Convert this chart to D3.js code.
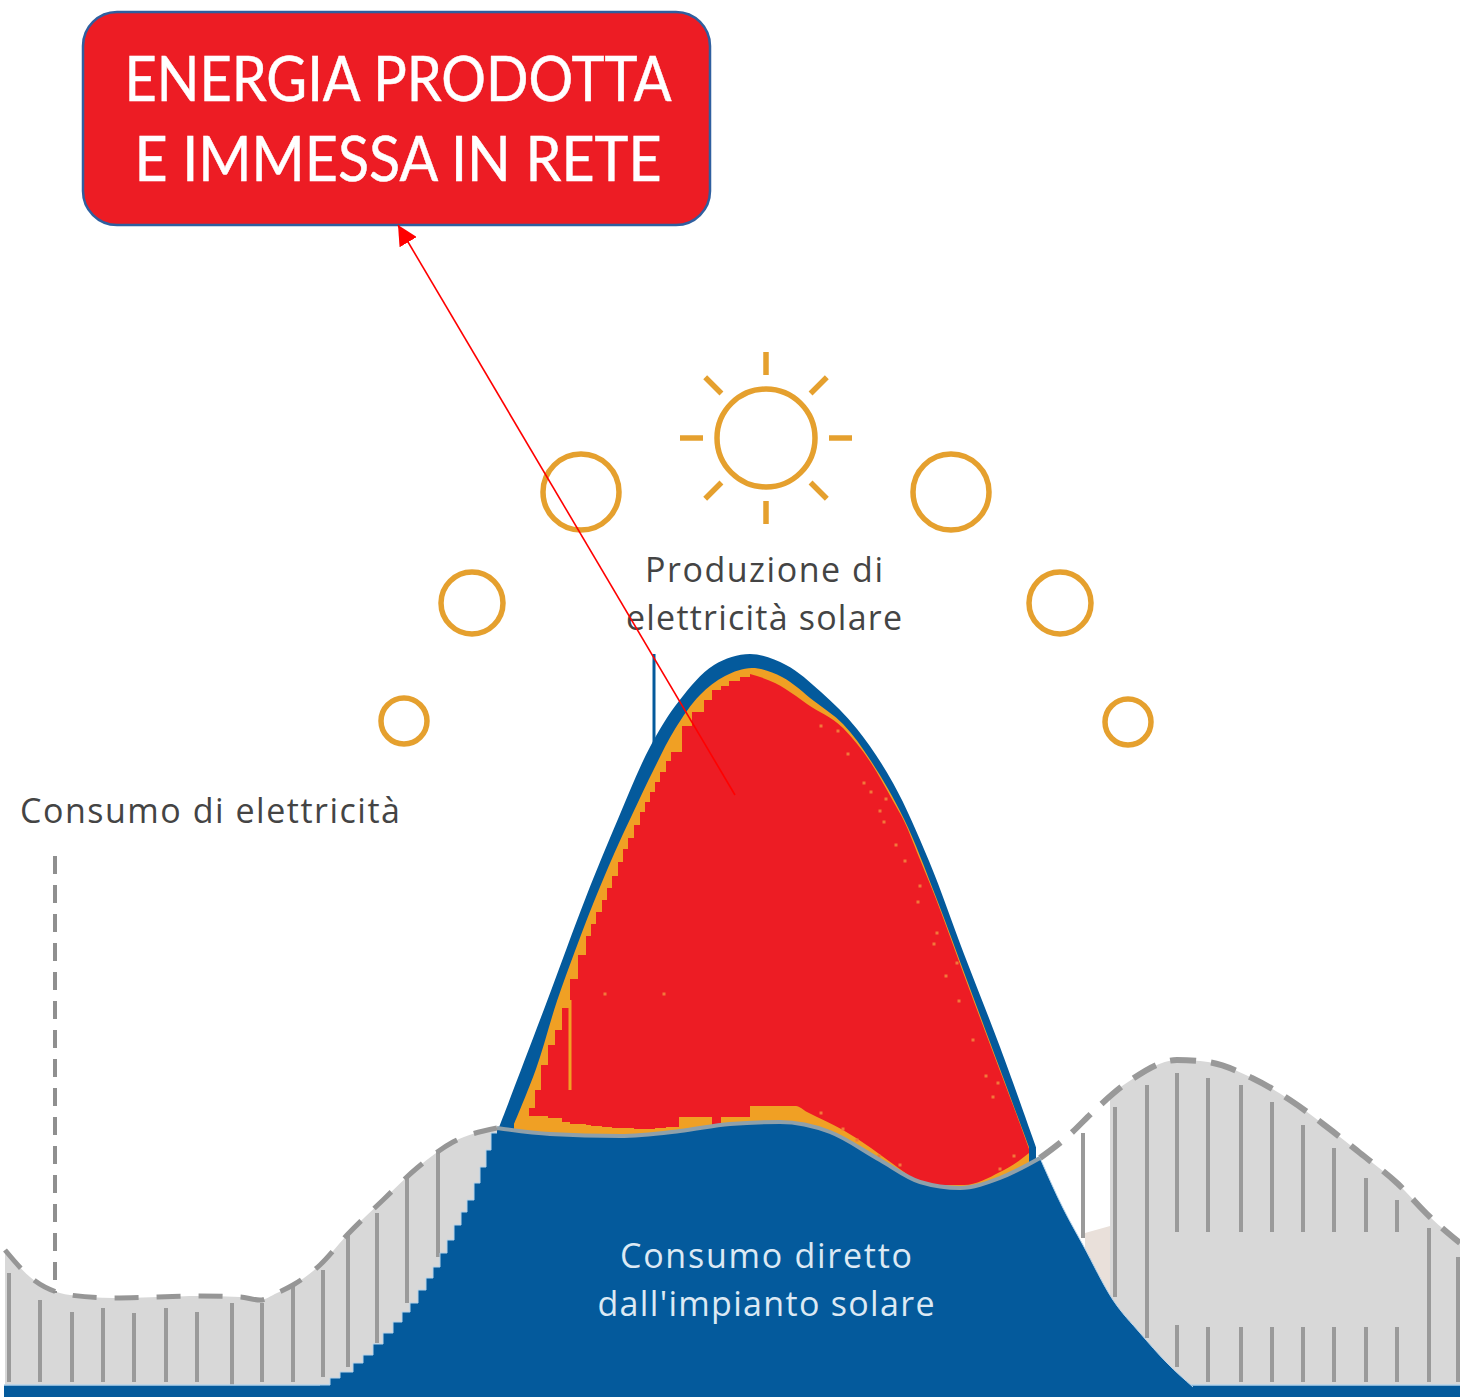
<!DOCTYPE html>
<html>
<head>
<meta charset="utf-8">
<title>Energia prodotta e immessa in rete</title>
<script src="https://cdn.jsdelivr.net/npm/d3@7"></script>
<style>
    html, body { margin: 0; padding: 0; background: #fff; }
    svg { display: block; }
    text { font-family: "Open Sans", sans-serif; }
</style>
</head>
<body>
<div id="chart"></div>
<script>
// values: x = time of day, y = power (arbitrary units)
var consumption = [[0.5,13.8],[3,11.1],[7,9.3],[11.3,9],[15.8,9.1],[20,9.2],[24,9.1],[26,8.8],[27.7,9.5],[29.3,10.3],[32,12.3],[34.7,15.3],[38.3,18.8],[41.7,22],[45.3,24.6],[49.7,26],[55,25.4],[62,25.2],[68,25.7],[73,26.4],[78,26.6],[83,25.6],[88,22.8],[92,20.6],[96,20],[100,21],[104,23],[106.7,25.1],[109.7,28],[112.8,30.6],[117.7,32.8],[120.8,32.6],[125.2,31],[129,28.8],[132.7,26.1],[136,23.5],[139.7,20.5],[143,17.1],[146,14.5]];

var productionOuter = [[49.5,25],[54.6,38.4],[58.6,49.1],[61.8,56.9],[65,64.1],[67.9,68.7],[71.4,72.3],[75,73.4],[78.6,72.3],[82.1,69.6],[85.7,65.9],[89.3,60.5],[92.9,52.7],[96.4,43.4],[100,34.1],[103.6,24.1]];
var productionInner = [[51.4,26.4],[53.6,31.9],[55.7,38.7],[57.5,43.7],[59.3,48.4],[61.4,53.4],[63.2,57.3],[65.4,61.9],[67.5,65.9],[70,69.3],[72.5,71.2],[75.2,72],[78.2,71.1],[81.4,68.7],[84.3,66.4],[87.1,62.7],[90.4,56.9],[93.6,49.1],[96.8,40.5],[100,31.9],[102.9,24.1]];

// exported to the grid: left part is blocky, right part smooth. [x, top, bottom]
var exportLeft = [[52.9,28,27.2],[53.5,29.8,27.2],[54.1,32.3,27.2],[54.8,34.3,27],[55.5,35.8,27],[56.2,38,26.6],[57,40.9,26.4],[57.8,43.3,26.4],[58.6,45.2,26.3],[59.1,46.4,26.2],[59.6,47.6,26.2],[60.2,48.8,26.1],[60.7,50,26.1],[61.2,51.2,26],[61.8,52.6,26],[62.3,53.9,26],[62.8,55,26],[63.4,56.3,25.9],[64,57.6,25.9],[64.5,58.6,25.9],[65,59.6,25.9],[65.5,60.6,26],[66,61.6,26],[66.6,62.7,26.1],[67.1,63.6,26.1],[67.9,63.6,27.1],[68.2,66.2,27.1],[69.2,67.6,27.1],[70.4,68.8,27.1],[71.2,69.8,26.2],[72.1,70.2,27.1],[72.9,70.7,27.1],[74,71.1,27.1],[75,71.4,28.2]];
var exportRight = [[75,71.4,28.2],[77.5,70.5,28.2],[79.6,69.2,28.2],[80.7,68.4,27.6],[84.3,66,25.8],[87.1,62.5,24],[89.3,58.7,22.4],[90.4,56.7,21.6],[92.1,52.6,20.5],[93.6,48.9,20.3],[96.4,41.3,20.3],[100,31.7,21.6],[102,26.4,22.8],[102.9,23.9,23.5]];
var exportSpecks = [[82.1,66.2],[83.8,65.7],[84.8,63.4],[86.4,60.5],[87.1,59.6],[88.6,58.9],[88,57.7],[88.4,56.6],[89.6,54.3],[90.5,52.7],[92,50.2],[91.8,48.6],[93.4,44.4],[93.7,45.5],[94.6,41.2],[95.7,42.5],[95.9,38.7],[97.3,34.8],[98.6,31.2],[99.3,29.1],[99.8,30.5],[60.5,39.4],[66.4,39.4],[101.4,23.2],[100,21.9],[90,22.3],[87.9,23.2],[85.7,24.8],[84.3,25.9],[82.1,27.5]];
var orangeStreak = [[57,38.8],[57,29.8]];

// consumed directly from the panels
var directLeft = [[32,0.3],[33,1],[34,1.6],[35.3,2.5],[36.3,3.3],[37.3,4.4],[38.3,5.5],[39.3,6.6],[40.2,7.6],[41,8.5],[41.8,9.8],[42.6,11],[43.3,12.1],[44,13.5],[44.7,14.8],[45.4,16.3],[46.1,17.6],[46.7,18.8],[47.4,20.5],[48,22.1],[48.6,23.8],[49.1,25.5],[49.7,25.5]];
var directRight = [[104,23],[106.3,18],[108.3,14.3],[111.3,8.8],[114,5.5],[116.7,2.5],[119.3,0.1]];

var paleEdge = [[108.5,15.5],[111,16.2]];
var greyRightStart = [[111,29.3]];

// hatching behind the consumption curve: [x, top, bottom]
var hatchLeft = [[0.9,11.5,0.6],[4,8.8,0.6],[7.2,7.6,0.6],[10.3,8,0.6],[13.4,7.5,0.6],[16.6,8,0.6],[19.7,7.6,0.6],[23.2,8.5,0.3],[26.2,8.5,0.6],[29.3,10.3,0.6],[32.3,11.8,1.1],[34.8,15.3,2.1],[37.7,17.5,4.5],[40.7,21,8.5],[43.8,23.8,13.1]];
var hatchRight = [[108.3,25.5,15],[111.5,28.1,9.1],[114.7,30.3,5],[117.7,31.5,15.6],[120.8,31,15.6],[124.1,30.3,15.6],[127.2,28.6,15.6],[130.3,26.3,15.6],[133.4,24,15.6],[136.6,21,15.6],[139.7,18.8,15.6],[142.9,16,0.6],[145.8,13.1,0.6]];
var hatchLow = [[117.7,6.3,2.1],[120.8,6.1,0.6],[124.1,6.1,0.6],[127.2,6.1,0.6],[130.3,6.1,0.6],[133.4,6.1,0.6],[136.6,6.1,0.6],[139.7,6.1,0.6]];

// sun path: [x, height, radius]
var suns = [[40.4,66.7,2.3],[47.2,78.5,3.1],[58.1,89.6,3.8],[76.6,95,4.9],[95.1,89.6,3.8],[106,78.5,3.1],[112.8,66.6,2.3]];
var rayAngles = [0,45,90,135,180,225,270,315];
var noonSun = [76.6,95];
var rayRange = [6.3,8.6];

var consumoLeader = [[5.5,53.2],[5.5,9.5]];
var productionLeader = [[65.4,73.4],[65.4,64.2]];
var arrowLine = [[73.5,59.3],[39.8,116.3]];
var boxCorners = [[8.3,137.6],[71,116.3]];
var groundBand = [0.3,-0.9];
var groundRange = [0.4,146];

var boxLines = ["ENERGIA PRODOTTA", "E IMMESSA IN RETE"];
var labels = [
    { text: "Produzione di", x: 76.4, y: 80.6, w: 238, fill: "#444444" },
    { text: "elettricità solare", x: 76.4, y: 75.8, w: 276, fill: "#444444" },
    { text: "Consumo di elettricità", x: 21, y: 56.5, w: 380, fill: "#444444" },
    { text: "Consumo diretto", x: 76.6, y: 12, w: 292, fill: "#dce9f4" },
    { text: "dall'impianto solare", x: 76.6, y: 7.2, w: 337, fill: "#dce9f4" }
];

var svgWidth = 1460;
var svgHeight = 1397;

var blue = "#045a9c";
var orange = "#f0a024";
var red = "#ed1c24";
var sunColor = "#e5a02e";
var grey = "#d8d8d8";
var hatchColor = "#9a9a9a";
var paleBlue = "#b5d3ea";

var svg = d3.select("#chart")
    .append("svg")
    .attr("width", svgWidth)
    .attr("height", svgHeight);

var x = d3.scaleLinear().domain([0, 146]).range([0, svgWidth]);
var y = d3.scaleLinear().domain([0, 138.8]).range([1388, 0]);
var unit = x(1) - x(0);

function areaOf(curve) {
    return d3.area().x(d => x(d[0])).y0(y(0)).y1(d => y(d[1])).curve(curve);
}
function bandArea(curve) {
    return d3.area().x(d => x(d[0])).y0(d => y(d[2])).y1(d => y(d[1])).curve(curve);
}
function lineWith(curve) {
    return d3.line().x(d => x(d[0])).y(d => y(d[1])).curve(curve);
}
var lineOf = lineWith(d3.curveLinear);
var smoothLine = lineWith(d3.curveMonotoneX);

// grey area under the consumption curve
svg.append("path")
    .attr("d", areaOf(d3.curveMonotoneX)(consumption.filter(d => d[0] <= 49.7)))
    .attr("fill", grey);
svg.append("path")
    .attr("d", areaOf(d3.curveMonotoneX)(greyRightStart.concat(consumption.filter(d => d[0] >= 112))))
    .attr("fill", grey);
svg.append("path")
    .attr("d", areaOf(d3.curveLinear)(paleEdge))
    .attr("fill", "#e9e0da");

// hatching
[hatchLeft, hatchRight, hatchLow].forEach(function(rows) {
    svg.append("g").selectAll("line")
        .data(rows)
        .enter()
        .append("line")
        .attr("x1", d => x(d[0]))
        .attr("x2", d => x(d[0]))
        .attr("y1", d => y(d[1]))
        .attr("y2", d => y(d[2]))
        .attr("stroke", hatchColor)
        .attr("stroke-width", 4);
});

// ground band
svg.append("rect")
    .attr("x", x(groundRange[0]))
    .attr("y", y(groundBand[0]))
    .attr("width", x(groundRange[1]) - x(groundRange[0]))
    .attr("height", y(groundBand[1]) - y(groundBand[0]))
    .attr("fill", blue);
svg.append("path")
    .attr("d", lineOf([[groundRange[0], groundBand[0]], [groundRange[1], groundBand[0]]]))
    .attr("stroke", paleBlue)
    .attr("stroke-width", 1.5);

// production hump
svg.append("path")
    .attr("d", lineOf(productionLeader))
    .attr("stroke", blue)
    .attr("stroke-width", 3);
svg.append("path")
    .attr("d", areaOf(d3.curveCatmullRom)(productionOuter))
    .attr("fill", blue);
svg.append("path")
    .attr("d", areaOf(d3.curveCatmullRom)(productionInner))
    .attr("fill", orange);
svg.append("path")
    .attr("d", bandArea(d3.curveStepAfter)(exportLeft))
    .attr("fill", red);
svg.append("path")
    .attr("d", bandArea(d3.curveMonotoneX)(exportRight))
    .attr("fill", red);
svg.append("path")
    .attr("d", lineOf(orangeStreak))
    .attr("stroke", orange)
    .attr("stroke-width", 3);
svg.append("g").selectAll("rect")
    .data(exportSpecks)
    .enter()
    .append("rect")
    .attr("x", d => x(d[0]) - 1.5)
    .attr("y", d => y(d[1]) - 1.5)
    .attr("width", 3)
    .attr("height", 3)
    .attr("fill", "#f2783a");

// direct consumption, on top of the hump
svg.append("path")
    .attr("d", areaOf(d3.curveStepAfter)(directLeft))
    .attr("fill", blue);
svg.append("path")
    .attr("d", lineWith(d3.curveStepAfter)(directLeft))
    .attr("fill", "none")
    .attr("stroke", paleBlue)
    .attr("stroke-width", 1);
svg.append("path")
    .attr("d", areaOf(d3.curveMonotoneX)(directRight))
    .attr("fill", blue);
svg.append("path")
    .attr("d", smoothLine(directRight))
    .attr("fill", "none")
    .attr("stroke", paleBlue)
    .attr("stroke-width", 1);
svg.append("path")
    .attr("d", areaOf(d3.curveMonotoneX)(consumption.filter(d => d[0] >= 49.7 && d[0] <= 104)))
    .attr("fill", blue);

// consumption curve: nearly solid over the blue, dashed elsewhere
svg.append("path")
    .attr("d", smoothLine(consumption.filter(d => d[0] >= 49.7 && d[0] <= 104)))
    .attr("fill", "none")
    .attr("stroke", "#8fa0aa")
    .attr("stroke-width", 4);
svg.append("path")
    .attr("d", smoothLine(consumption.filter(d => d[0] <= 49.7)))
    .attr("fill", "none")
    .attr("stroke", "#969696")
    .attr("stroke-width", 5)
    .attr("stroke-dasharray", "24 18");
svg.append("path")
    .attr("d", smoothLine(consumption.filter(d => d[0] >= 104)))
    .attr("fill", "none")
    .attr("stroke", "#999999")
    .attr("stroke-width", 6)
    .attr("stroke-dasharray", "26 15");

svg.append("path")
    .attr("d", lineOf(consumoLeader))
    .attr("stroke", "#8f8f8f")
    .attr("stroke-width", 4)
    .attr("stroke-dasharray", "18 11");

// suns
svg.append("g").selectAll("circle")
    .data(suns)
    .enter()
    .append("circle")
    .attr("cx", d => x(d[0]))
    .attr("cy", d => y(d[1]))
    .attr("r", d => d[2] * unit)
    .attr("fill", "none")
    .attr("stroke", sunColor)
    .attr("stroke-width", 5.5);

svg.append("g").selectAll("line")
    .data(rayAngles)
    .enter()
    .append("line")
    .attr("x1", d => x(noonSun[0]) + rayRange[0] * unit * Math.cos(d * Math.PI / 180))
    .attr("y1", d => y(noonSun[1]) + rayRange[0] * unit * Math.sin(d * Math.PI / 180))
    .attr("x2", d => x(noonSun[0]) + rayRange[1] * unit * Math.cos(d * Math.PI / 180))
    .attr("y2", d => y(noonSun[1]) + rayRange[1] * unit * Math.sin(d * Math.PI / 180))
    .attr("stroke", sunColor)
    .attr("stroke-width", 5.5);

// labels
svg.append("g").selectAll("text")
    .data(labels)
    .enter()
    .append("text")
    .attr("x", d => x(d.x))
    .attr("y", d => y(d.y))
    .attr("text-anchor", "middle")
    .attr("textLength", d => d.w)
    .attr("lengthAdjust", "spacing")
    .attr("font-size", 34)
    .attr("fill", d => d.fill)
    .text(d => d.text);

// red callout
svg.append("rect")
    .attr("x", x(boxCorners[0][0]))
    .attr("y", y(boxCorners[0][1]))
    .attr("width", x(boxCorners[1][0]) - x(boxCorners[0][0]))
    .attr("height", y(boxCorners[1][1]) - y(boxCorners[0][1]))
    .attr("rx", 34)
    .attr("fill", red)
    .attr("stroke", "#2f5f9f")
    .attr("stroke-width", 2.5);

[[101, 547], [181, 527]].forEach(function(row, i) {
    svg.append("text")
        .attr("x", 398)
        .attr("y", row[0])
        .attr("text-anchor", "middle")
        .attr("textLength", row[1])
        .attr("lengthAdjust", "spacingAndGlyphs")
        .attr("font-size", 62)
        .attr("fill", "#fff")
        .attr("stroke", "#fff")
        .attr("stroke-width", 0.5)
        .style("font-family", "Lato, sans-serif")
        .text(boxLines[i]);
});

// arrow from the red area to the callout
svg.append("defs").append("marker")
    .attr("id", "head")
    .attr("viewBox", "0 0 10 10")
    .attr("refX", 10)
    .attr("refY", 5)
    .attr("markerUnits", "userSpaceOnUse")
    .attr("markerWidth", 20)
    .attr("markerHeight", 20)
    .attr("orient", "auto")
    .append("path")
    .attr("d", "M0,0L10,5L0,10Z")
    .attr("fill", "#ff0000");

svg.append("path")
    .attr("d", lineOf(arrowLine))
    .attr("fill", "none")
    .attr("stroke", "#ff0000")
    .attr("stroke-width", 1.6)
    .attr("marker-end", "url(#head)");
</script>
</body>
</html>
